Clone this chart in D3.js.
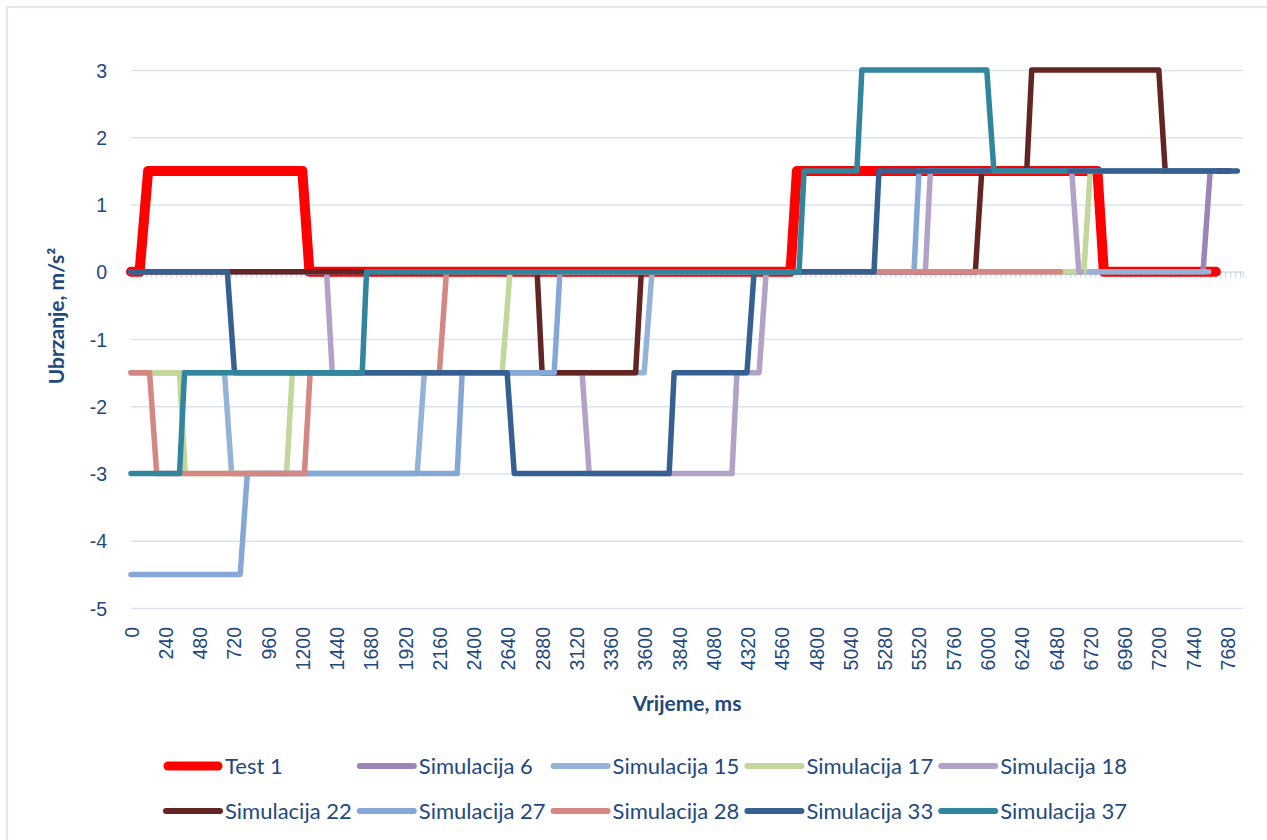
<!DOCTYPE html>
<html>
<head>
<meta charset="utf-8">
<script src="https://cdn.jsdelivr.net/npm/d3@7"></script>
<style>
  html, body { margin: 0; padding: 0; background: #ffffff; }
  svg { display: block; font-family: Lato, "Open Sans", "Liberation Sans", sans-serif; }
</style>
</head>
<body>
<svg id="chart" width="1267" height="840"></svg>
<script>
// Acceleration traces: [time in ms, acceleration in m/s²]
const test1 = [[0,0],[60,0],[120,1.5],[1200,1.5],[1250,0],[4620,0],[4665,1.5],[6770,1.5],[6815,0],[7600,0]];
const sim6  = [[0,0],[7510,0],[7560,1.5],[7680,1.5]];
const sim15 = [[0,-1.5],[655,-1.5],[705,-3],[2005,-3],[2055,-1.5],[3595,-1.5],[3650,0],[7550,0]];
const sim17 = [[0,-1.5],[340,-1.5],[380,-3],[1090,-3],[1130,-1.5],[2600,-1.5],[2655,0],[6675,0],[6720,1.5],[7560,1.5]];
const sim18 = [[0,0],[1370,0],[1410,-1.5],[3160,-1.5],[3210,-3],[4210,-3],[4245,-1.5],[4400,-1.5],[4450,0],[5565,0],[5600,1.5],[6590,1.5],[6640,0],[6660,0]];
const sim22 = [[0,0],[2845,0],[2880,-1.5],[3535,-1.5],[3575,0],[5915,0],[5960,1.5],[6275,1.5],[6310,3],[7200,3],[7245,1.5],[7700,1.5]];
const sim27 = [[0,-4.5],[765,-4.5],[815,-3],[2285,-3],[2320,-1.5],[2965,-1.5],[3005,0],[5485,0],[5520,1.5],[7600,1.5]];
const sim28 = [[0,-1.5],[130,-1.5],[180,-3],[1215,-3],[1255,-1.5],[2160,-1.5],[2210,0],[6510,0]];
const sim33 = [[0,0],[675,0],[725,-1.5],[2635,-1.5],[2685,-3],[3770,-3],[3805,-1.5],[4315,-1.5],[4365,0],[5205,0],[5240,1.5],[7750,1.5]];
const sim37 = [[0,-3],[340,-3],[375,-1.5],[1620,-1.5],[1650,0],[4680,0],[4715,1.5],[5085,1.5],[5120,3],[5995,3],[6045,1.5],[6545,1.5]];

const seriesNames  = ["Test 1","Simulacija 6","Simulacija 15","Simulacija 17","Simulacija 18",
                      "Simulacija 22","Simulacija 27","Simulacija 28","Simulacija 33","Simulacija 37"];
const seriesValues = [test1, sim6, sim15, sim17, sim18, sim22, sim27, sim28, sim33, sim37];
const seriesColors = ["#ff0000","#9a85b6","#95b3d7","#c3d69b","#b3a2c7",
                      "#632523","#86a8d6","#d58784","#376092","#31859c"];

const xTickLabels = [0,240,480,720,960,1200,1440,1680,1920,2160,2400,2640,2880,3120,3360,3600,
                     3840,4080,4320,4560,4800,5040,5280,5520,5760,6000,6240,6480,6720,6960,7200,7440,7680];
const yTickLabels = [3,2,1,0,-1,-2,-3,-4,-5];

const textColor = "#1f497d";
const gridColor = "#d9e3f1";

const svg = d3.select("#chart");

// outer chart frame
svg.append("rect")
  .attr("x", 7).attr("y", 7).attr("width", 1290).attr("height", 870)
  .attr("fill", "#ffffff").attr("stroke", "#d4dfee").attr("stroke-width", 1.5);

const x = d3.scaleLinear().domain([0, 7790]).range([131, 1243]);
const y = d3.scaleLinear().domain([-5, 3]).range([608, 70]);

// horizontal gridlines + value labels
const yAxis = svg.append("g")
  .attr("transform", `translate(${x(0)},0)`)
  .call(d3.axisLeft(y).tickValues(yTickLabels).tickSize(-(x.range()[1] - x.range()[0])).tickPadding(24)
        .tickFormat(d => d === 0 ? "0" : d3.format("")(d)));
yAxis.select(".domain").remove();
yAxis.selectAll(".tick line").attr("stroke", gridColor).attr("stroke-width", 1.5);
yAxis.selectAll(".tick text")
  .attr("fill", textColor).attr("font-size", 19.5).attr("dy", "0.36em")
  .text(d => d < 0 ? "-" + Math.abs(d) : d);

// category tick marks along the zero line
const zeroAxis = svg.append("g")
  .attr("transform", `translate(0,${y(0)})`)
  .call(d3.axisBottom(x).tickValues(d3.range(0, 7790, 35)).tickSize(6).tickFormat(""));
zeroAxis.select(".domain").attr("stroke", gridColor).attr("stroke-width", 1.5);
zeroAxis.selectAll(".tick line").attr("stroke", "#c9d8ec").attr("stroke-width", 1.2);

// time labels, rotated
const xAxis = svg.append("g")
  .attr("transform", "translate(0,627)")
  .call(d3.axisBottom(x).tickValues(xTickLabels).tickSize(0).tickPadding(0).tickFormat(d => String(d)));
xAxis.select(".domain").remove();
xAxis.selectAll(".tick text")
  .attr("fill", textColor).attr("font-size", 19.5)
  .attr("transform", "rotate(-90)")
  .attr("x", 0).attr("y", 0).attr("dy", "0.36em")
  .attr("text-anchor", "end");

// axis titles
svg.append("text")
  .attr("x", 687).attr("y", 711)
  .attr("text-anchor", "middle").attr("font-weight", "bold").attr("font-size", 21)
  .attr("fill", textColor).text("Vrijeme, ms");

svg.append("text")
  .attr("transform", "translate(64,316) rotate(-90)")
  .attr("text-anchor", "middle").attr("font-weight", "bold").attr("font-size", 21)
  .attr("fill", textColor).text("Ubrzanje, m/s²");

// series lines
const line = d3.line().x(d => x(d[0])).y(d => y(d[1]));
const lines = svg.append("g");
seriesValues.forEach((vals, i) => {
  lines.append("path")
    .attr("d", line(vals))
    .attr("fill", "none")
    .attr("stroke", seriesColors[i])
    .attr("stroke-width", i === 0 ? 10 : 5.5)
    .attr("stroke-linejoin", "round")
    .attr("stroke-linecap", "round");
});

// legend: two rows of five
const legend = svg.append("g");
seriesNames.forEach((name, i) => {
  const col = i % 5, row = Math.floor(i / 5);
  const x0 = 163 + col * 193.8;
  const yy = 766 + row * 45;
  legend.append("line")
    .attr("x1", x0 + (i === 0 ? 5 : 3)).attr("x2", x0 + (i === 0 ? 55 : 57))
    .attr("y1", yy).attr("y2", yy)
    .attr("stroke", seriesColors[i]).attr("stroke-width", i === 0 ? 9 : 6)
    .attr("stroke-linecap", "round");
  legend.append("text")
    .attr("x", x0 + 62).attr("y", yy + 8)
    .attr("font-size", 22).attr("fill", textColor)
    .text(name);
});
</script>
</body>
</html>
